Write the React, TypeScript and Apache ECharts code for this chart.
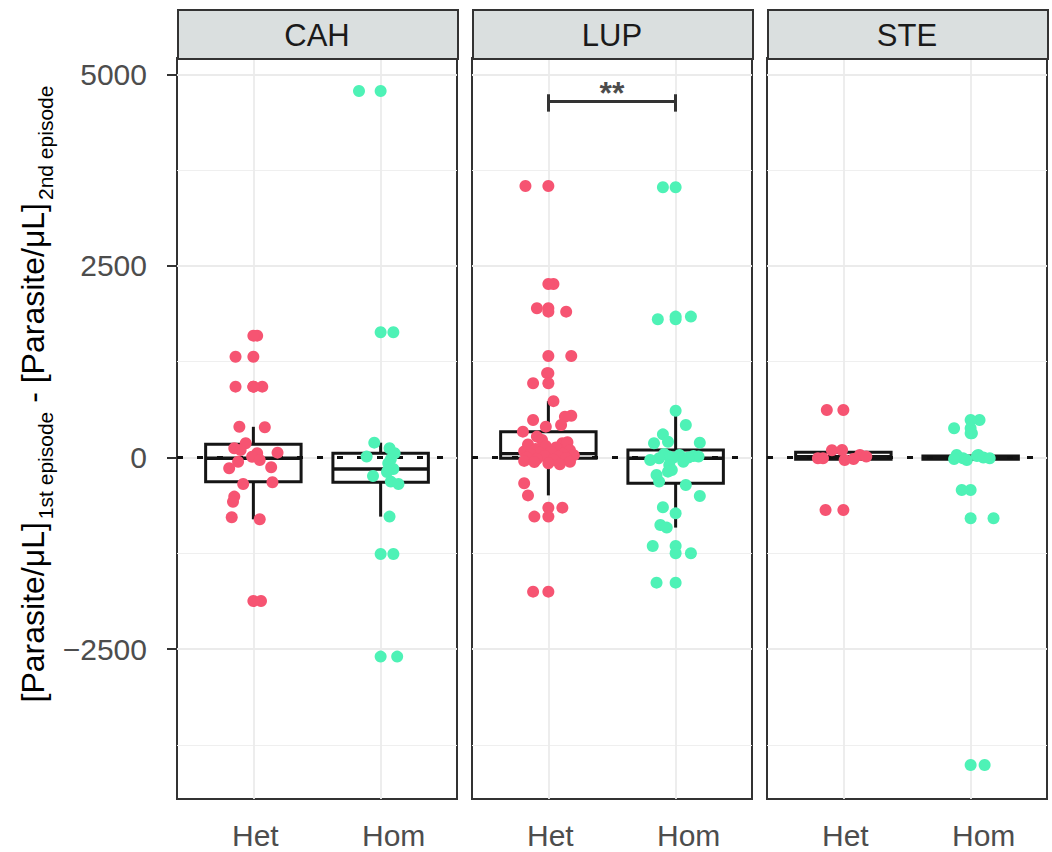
import React, { useEffect, useRef } from 'react';
import * as echarts from 'echarts';

// ---------- data ----------
const panels = ['CAH', 'LUP', 'STE'];
const genotypes = ['Het', 'Hom'];
const yTicks = [-2500, 0, 2500, 5000];
const yMinorTicks = [-3750, -1250, 1250, 3750];
const yMin = -4457;
const yMax = 5213;

// values of each group and their horizontal jitter (category units)
const cahHetValues = [1590, 1315, 924, 924, 400, 395, 185, 120, 98, 55, 63, 10, -33, -55, -141, -128, -346, -324, -511, -577, -781, -807, -1873];
const cahHetJitter = [0.03, -0.14, -0.14, 0.07, -0.11, 0.09, -0.06, -0.15, -0.1, 0.03, 0.19, -0.01, 0.05, -0.12, -0.19, 0.14, -0.08, 0.15, -0.15, -0.16, -0.17, 0.05, 0.06];
const cahHomValues = [4783, 1634, 193, 120, 55, 11, -24, -76, -150, -163, -190, -241, -315, -346, -772, -1259, -2599];
const cahHomJitter = [-0.17, 0.1, -0.05, 0.07, 0.11, -0.11, 0.08, 0.06, 0.1, 0.06, 0.05, -0.06, 0.08, 0.14, 0.07, 0.1, 0.13];

const lupHetValues = [3543, 2264, 1947, 1903, 1325, 1100, 968, 735, 545, 532, 489, 424, 402, 337, 272, 185, 120,
  228, 200, 170, 150, 130, 110, 95, 80, 70, 60, 50, 40, 30, 20, 10, 0, -10, -20, -30, -45, -55, -60, -75, -90,
  -337, -495, -655, -772, -1751];
const lupHetJitter = [-0.18, 0.04, -0.09, 0.14, 0.18, -0.01, -0.12, 0.04, 0.18, 0.13, -0.12, 0.1, -0.02, -0.2, -0.09, 0.11, 0.13,
  -0.05, 0.15, -0.16, -0.02, 0.06, -0.1, 0.17, -0.19, 0.02, -0.07, 0.11, -0.14, 0.2, -0.03, 0.08, -0.17, 0.14, -0.09, 0.04, -0.19, 0.17, -0.11, 0.0, 0.09,
  -0.19, -0.16, 0.11, -0.11, -0.12];
const lupHomValues = [3526, 1838, 1803, 610, 424, 302, 206, 185, 193, 45, 33, 20, 11, 11, 0, -5, -11, -33, -55, -98, -163, -185, -228, -315, -359, -502, -650, -729, -881, -915, -1155, -1250, -1634];
const lupHomJitter = [-0.1, 0.12, -0.14, 0.0, 0.08, -0.1, -0.06, -0.17, 0.19, -0.09, 0.03, 0.14, 0.18, -0.05, 0.1, -0.02, -0.13, -0.2, 0.06, -0.05, -0.03, -0.06, -0.15, -0.13, 0.08, 0.19, -0.1, 0.0, -0.12, -0.07, -0.18, 0.12, -0.15];

const steHetValues = [620, 95, 98, 33, 11, -11, -11, -20, -33, -685];
const steHetJitter = [-0.13, -0.09, -0.01, 0.13, 0.18, -0.2, -0.16, 0.08, 0.01, -0.14];
const steHomValues = [489, 381, 315, 33, 33, 20, 0, -10, -11, -20, -33, -424, -794, -4013];
const steHomJitter = [0.07, -0.13, 0.01, -0.11, 0.06, 0.05, 0.1, -0.06, 0.15, -0.13, -0.03, -0.07, 0.18, 0.11];

// box statistics: [lower whisker, Q1, median, Q3, upper whisker]
const cahHetBox = [-807, -316, -10, 172, 400];
const cahHomBox = [-772, -324, -150, 55, 193];
const lupHetBox = [-495, -11, 50, 337, 735];
const lupHomBox = [-915, -337, -11, 98, 610];
const steHetBox = [-33, -24, 10, 68, 98];
const steHomBox = [-33, -22, -5, 20, 33];

// significance annotation (LUP: Het vs Hom)
const sigLabel = '**';
const sigBarY = 4643;
const sigTipLow = 4513;
const sigTipHigh = 4740;
const sigLabelY = 4760;

// ---------- layout / style ----------
const FONT = "'Liberation Sans', Arial, Helvetica, sans-serif";
const HET_COLOR = '#F65472';
const HOM_COLOR = '#4EF2B6';
const GRID_LEFTS = [177, 472, 767];
const GRID_WIDTH = 280;
const GRID_TOP = 58;
const GRID_HEIGHT = 741;
const BOX_WIDTH = 0.75;
const BORDER = '#333333';

const groups = [
  { het: { v: cahHetValues, j: cahHetJitter, box: cahHetBox }, hom: { v: cahHomValues, j: cahHomJitter, box: cahHomBox } },
  { het: { v: lupHetValues, j: lupHetJitter, box: lupHetBox }, hom: { v: lupHomValues, j: lupHomJitter, box: lupHomBox } },
  { het: { v: steHetValues, j: steHetJitter, box: steHetBox }, hom: { v: steHomValues, j: steHomJitter, box: steHomBox } },
];

function pointsFor(g: { v: number[]; j: number[]; box: number[] }, xPos: number) {
  const pts: number[][] = g.v.map((val, i) => [xPos + g.j[i], val]);
  // boxplot outliers drawn at the category centre
  g.v.forEach((val) => {
    if (val > g.box[4] || val < g.box[0]) pts.push([xPos, val]);
  });
  return pts;
}

function buildOption() {
  const grid: any[] = [];
  const xAxis: any[] = [];
  const yAxis: any[] = [];
  const series: any[] = [];
  const graphic: any[] = [];

  panels.forEach((name, p) => {
    grid.push({
      left: GRID_LEFTS[p], top: GRID_TOP, width: GRID_WIDTH, height: GRID_HEIGHT,
      show: true, borderColor: BORDER, borderWidth: 2, backgroundColor: '#fff',
    });
    xAxis.push({
      type: 'value', gridIndex: p, min: 0.4, max: 2.6,
      axisLine: { show: false },
      splitLine: { show: false },
      axisTick: { show: true, customValues: [1, 2], length: 6, lineStyle: { color: BORDER, width: 2 } },
      axisLabel: {
        show: true, customValues: [1, 2], margin: 21,
        formatter: (v: number) => (Math.round(v) === 1 ? `{het|${genotypes[0]}}` : `{hom|${genotypes[1]}}`),
        rich: {
          het: { fontSize: 30, fontFamily: FONT, color: '#4d4d4d', padding: [0, 0, 0, 4] },
          hom: { fontSize: 30, fontFamily: FONT, color: '#4d4d4d', padding: [0, 0, 0, 26] },
        },
      },
    });
    yAxis.push({
      type: 'value', gridIndex: p, min: yMin, max: yMax,
      axisLine: { show: false },
      splitLine: { show: false },
      axisTick: { show: p === 0, customValues: yTicks, length: 10, lineStyle: { color: BORDER, width: 2 } },
      axisLabel: {
        show: p === 0, customValues: yTicks, margin: 30,
        fontSize: 30, fontFamily: FONT, color: '#4d4d4d',
        formatter: (v: number) => (v < 0 ? '\u2212' + Math.abs(v) : String(v)),
      },
    });

    // gridlines
    const gl: any[] = [];
    yTicks.forEach((v) => gl.push({ yAxis: v, lineStyle: { color: '#ebebeb', width: 1.8, type: 'solid' } }));
    yMinorTicks.forEach((v) => gl.push({ yAxis: v, lineStyle: { color: '#efefef', width: 1.2, type: 'solid' } }));
    [1, 2].forEach((v) => gl.push({ xAxis: v, lineStyle: { color: '#ebebeb', width: 1.8, type: 'solid' } }));
    series.push({
      type: 'line', xAxisIndex: p, yAxisIndex: p, data: [], z: 1, silent: true,
      markLine: { silent: true, z: 1, symbol: ['none', 'none'], label: { show: false }, data: gl },
    });

    // boxplots (no whisker caps, like ggplot)
    const g = groups[p];
    series.push({
      type: 'custom', xAxisIndex: p, yAxisIndex: p, z: 2, silent: true,
      dimensions: ['x', 'min', 'q1', 'med', 'q3', 'max'],
      encode: { x: 0, y: [1, 2, 3, 4, 5] },
      data: [[1, ...g.het.box], [2, ...g.hom.box]],
      renderItem: (params: any, api: any) => {
        const x = api.value(0);
        const pMin = api.coord([x, api.value(1)]);
        const pQ1 = api.coord([x, api.value(2)]);
        const pMed = api.coord([x, api.value(3)]);
        const pQ3 = api.coord([x, api.value(4)]);
        const pMax = api.coord([x, api.value(5)]);
        const w = api.size([BOX_WIDTH, 0])[0];
        const cx = pMed[0];
        const st = { stroke: '#151515', lineWidth: 3 };
        return {
          type: 'group',
          children: [
            { type: 'line', shape: { x1: cx, y1: pQ3[1], x2: cx, y2: pMax[1] }, style: st },
            { type: 'line', shape: { x1: cx, y1: pQ1[1], x2: cx, y2: pMin[1] }, style: st },
            { type: 'rect', shape: { x: cx - w / 2, y: pQ3[1], width: w, height: pQ1[1] - pQ3[1] }, style: { fill: '#ffffff', stroke: '#151515', lineWidth: 3 } },
            { type: 'line', shape: { x1: cx - w / 2, y1: pMed[1], x2: cx + w / 2, y2: pMed[1] }, style: { stroke: '#151515', lineWidth: 3.4 } },
          ],
        };
      },
    });

    // zero reference line
    series.push({
      type: 'line', xAxisIndex: p, yAxisIndex: p, data: [], z: 3, silent: true,
      markLine: {
        silent: true, z: 3, symbol: ['none', 'none'], label: { show: false },
        data: [{ yAxis: 0, lineStyle: { color: '#111', width: 3, type: [6, 14] } }],
      },
    });

    // points
    series.push({
      type: 'scatter', name: genotypes[0], xAxisIndex: p, yAxisIndex: p, z: 4,
      symbolSize: 12, itemStyle: { color: HET_COLOR, opacity: 1 },
      data: pointsFor(g.het, 1),
    });
    series.push({
      type: 'scatter', name: genotypes[1], xAxisIndex: p, yAxisIndex: p, z: 4,
      symbolSize: 12, itemStyle: { color: HOM_COLOR, opacity: 1 },
      data: pointsFor(g.hom, 2),
    });

    // strip
    graphic.push({
      type: 'rect', left: GRID_LEFTS[p], top: 9, z: 10,
      shape: { x: 0, y: 0, width: GRID_WIDTH, height: GRID_TOP - 9 },
      style: { fill: '#dadfdf', stroke: BORDER, lineWidth: 2 },
    });
    graphic.push({
      type: 'text', x: GRID_LEFTS[p] + GRID_WIDTH / 2, y: 35, z: 11,
      style: { text: name, fontSize: 31, fontFamily: FONT, fill: '#1a1a1a', align: 'center', verticalAlign: 'middle' },
    });
  });

  // significance bracket on LUP
  series.push({
    type: 'line', xAxisIndex: 1, yAxisIndex: 1, data: [], z: 5, silent: true,
    markLine: {
      silent: true, z: 5, symbol: ['none', 'none'], label: { show: false },
      lineStyle: { color: '#333', width: 3, type: 'solid' },
      data: [
        [{ coord: [1, sigBarY] }, { coord: [2, sigBarY] }],
        [{ coord: [1, sigTipLow] }, { coord: [1, sigTipHigh] }],
        [{ coord: [2, sigTipLow] }, { coord: [2, sigTipHigh] }],
      ],
    },
  });
  series.push({
    type: 'scatter', xAxisIndex: 1, yAxisIndex: 1, z: 5, silent: true,
    symbolSize: 1, itemStyle: { color: 'rgba(0,0,0,0)' },
    label: { show: true, position: 'inside', formatter: sigLabel, fontSize: 32, fontWeight: 'bold', fontFamily: FONT, color: '#1a1a1a' },
    data: [[1.5, sigLabelY]],
  });

  // y axis title with subscripts
  graphic.push({
    type: 'text', x: 33, y: 394, rotation: Math.PI / 2, z: 11,
    style: {
      text: '{m|[Parasite/\u03bcL]}{s|1st episode}{m| - [Parasite/\u03bcL]}{s|2nd episode}',
      align: 'center', verticalAlign: 'middle',
      rich: {
        m: { fontSize: 32, fontFamily: FONT, fill: '#000', lineHeight: 40 },
        s: { fontSize: 21, fontFamily: FONT, fill: '#000', lineHeight: 21, verticalAlign: 'top', padding: [22, 0, 0, 3] },
      },
    },
  });

  return { animation: false, backgroundColor: '#ffffff', grid, xAxis, yAxis, series, graphic };
}

export default function App() {
  const ref = useRef<HTMLDivElement>(null);
  useEffect(() => {
    if (!ref.current) return;
    const chart = echarts.init(ref.current, undefined, { renderer: 'svg' });
    chart.setOption(buildOption() as any);
    return () => chart.dispose();
  }, []);
  return <div ref={ref} style={{ position: 'absolute', left: 0, top: 0, width: 1052, height: 852 }} />;
}
